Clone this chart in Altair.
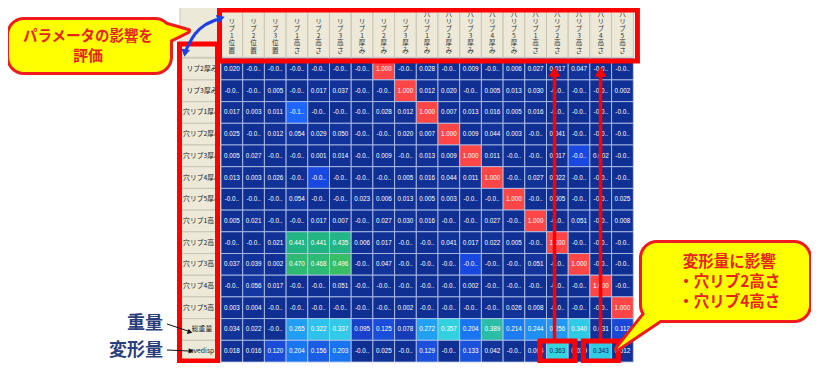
import altair as alt
import pandas as pd

# ---------------- data ----------------
COLS = ["リブ1位置", "リブ2位置", "リブ3位置", "リブ1高さ", "リブ2高さ", "リブ3高さ",
        "リブ1厚み", "リブ2厚み", "リブ3厚み",
        "穴リブ1厚み", "穴リブ2厚み", "穴リブ3厚み", "穴リブ4厚み", "穴リブ5厚み",
        "穴リブ1高さ", "穴リブ2高さ", "穴リブ3高さ", "穴リブ4高さ", "穴リブ5高さ"]
ROWS = ["リブ2厚み", "リブ3厚み", "穴リブ1厚み", "穴リブ2厚み", "穴リブ3厚み", "穴リブ4厚み",
        "穴リブ5厚み", "穴リブ1高さ", "穴リブ2高さ", "穴リブ3高さ", "穴リブ4高さ", "穴リブ5高さ",
        "総重量", "avedisp"]
# truncated negative entries ("-0.0..") are estimated as small negatives
VALUES = [
    [0.020, -0.01, -0.01, -0.01, -0.01, -0.01, -0.01, 1.000, -0.01, 0.028, -0.01, 0.009, -0.01, 0.006, 0.027, 0.017, 0.047, -0.01, -0.01],
    [-0.01, -0.01, 0.005, -0.01, 0.017, 0.037, -0.01, -0.01, 1.000, 0.012, 0.020, -0.01, 0.005, 0.013, 0.030, -0.01, -0.01, -0.01, 0.002],
    [0.017, 0.003, 0.011, -0.12, -0.01, -0.01, -0.01, 0.028, 0.012, 1.000, 0.007, 0.013, 0.016, 0.005, 0.016, -0.01, -0.01, -0.01, -0.01],
    [0.025, -0.01, 0.012, 0.054, 0.029, 0.050, -0.01, -0.01, 0.020, 0.007, 1.000, 0.009, 0.044, 0.003, -0.01, 0.041, -0.01, -0.01, -0.01],
    [0.005, 0.027, -0.01, -0.01, 0.001, 0.014, -0.01, 0.009, -0.01, 0.013, 0.009, 1.000, 0.011, -0.01, -0.01, 0.017, -0.05, 0.002, -0.01],
    [0.013, 0.003, 0.026, -0.01, -0.05, -0.01, -0.01, -0.01, 0.005, 0.016, 0.044, 0.011, 1.000, -0.01, 0.027, 0.022, -0.01, -0.01, -0.01],
    [-0.01, -0.01, -0.01, 0.054, -0.01, -0.01, 0.023, 0.006, 0.013, 0.005, 0.003, -0.01, -0.01, 1.000, -0.01, 0.005, -0.01, -0.01, 0.025],
    [0.005, 0.021, -0.01, -0.01, 0.017, 0.007, -0.01, 0.027, 0.030, 0.016, -0.01, -0.01, 0.027, -0.01, 1.000, -0.01, 0.051, -0.01, 0.008],
    [-0.01, -0.01, 0.021, 0.441, 0.441, 0.435, 0.006, 0.017, -0.01, -0.01, 0.041, 0.017, 0.022, 0.005, -0.01, 1.000, -0.01, -0.01, -0.01],
    [0.037, 0.039, 0.002, 0.470, 0.468, 0.496, -0.01, 0.047, -0.01, -0.01, -0.01, -0.05, -0.01, -0.01, 0.051, -0.01, 1.000, -0.01, -0.01],
    [-0.01, 0.056, 0.017, -0.01, -0.01, 0.051, -0.01, -0.01, -0.01, -0.01, -0.01, 0.002, -0.01, -0.01, -0.01, -0.01, -0.01, 1.000, -0.01],
    [0.003, 0.004, -0.01, -0.01, -0.01, -0.01, -0.01, -0.01, 0.002, -0.01, -0.01, -0.01, -0.01, 0.026, 0.008, -0.01, -0.01, -0.01, 1.000],
    [0.034, 0.022, -0.01, 0.265, 0.322, 0.337, 0.095, 0.125, 0.078, 0.272, 0.357, 0.204, 0.389, 0.214, 0.244, 0.256, 0.340, 0.031, 0.112],
    [0.018, 0.016, 0.120, 0.204, 0.156, 0.203, -0.01, 0.025, -0.01, 0.129, -0.01, 0.133, 0.042, -0.01, 0.064, 0.363, 0.030, 0.343, 0.012],
]
COLOR_STOPS = [-0.12, -0.05, -0.02, 0.05, 0.1, 0.2, 0.27, 0.33, 0.365, 0.39, 0.44, 0.5, 0.9, 1.0]
COLOR_RANGE = ["#1f66ff", "#1848e0", "#102e92", "#12349a", "#1a42d2", "#1a72f0", "#22a0f2",
               "#30c6ea", "#34d4dc", "#2cbca4", "#22b482", "#3ac064", "#ff4646", "#ff4646"]
CALLOUT1 = ["パラメータの影響を", "評価"]
CALLOUT2 = ["変形量に影響", "・穴リブ2高さ", "・穴リブ4高さ"]
SIDE_LABELS = ["重量", "変形量"]
HIGHLIGHT_COLS = ["穴リブ2高さ", "穴リブ4高さ"]

# ---------------- scales (grid units: one cell = 1) ----------------
XS = alt.Scale(domain=[-9.816, 27.189], nice=False, zero=False)
YS = alt.Scale(domain=[-2.313, 14.046], nice=False, zero=False, reverse=True)


def X(f="x"):
    return alt.X(f, type="quantitative", scale=XS, axis=None)


def Y(f="y"):
    return alt.Y(f, type="quantitative", scale=YS, axis=None)


X2 = alt.X2("x2")
Y2 = alt.Y2("y2")

nC, nR = len(COLS), len(ROWS)
JP = "Noto Sans CJK JP"
BEIGE = "#ece9d8"
RED = "#ff0000"

# cells
cells = []
for r, (rname, row) in enumerate(zip(ROWS, VALUES)):
    for c, v in enumerate(row):
        s = f"{v:.3f}"
        lab = s[:4] + ".." if v < 0 else s
        dark = rname == "avedisp" and COLS[c] in HIGHLIGHT_COLS
        cells.append(dict(c=c, c1=c + 1, r=r, r1=r + 1, cc=c + 0.5, rc=r + 0.5,
                          v=v, lab=lab, tc="#1a2060" if dark else "#ffffff"))
cells = pd.DataFrame(cells)

# header cells
hdr = [dict(x=c, x2=c + 1, y=-2.4, y2=-0.04) for c in range(nC)]
hdr.append(dict(x=-1.889, x2=0, y=-2.4, y2=-0.04))
hdr += [dict(x=-1.889, x2=0, y=r, y2=r + 1) for r in range(nR)]
hdr = pd.DataFrame(hdr)

L_hdr = alt.Chart(hdr).mark_rect(fill=BEIGE, stroke="#c9c5b3", strokeWidth=1).encode(
    x=X(), x2=X2, y=Y(), y2=Y2)

rl = pd.DataFrame([dict(x=-0.876, y=r + 0.5, t=n) for r, n in enumerate(ROWS)])
L_rl = alt.Chart(rl).mark_text(font=JP, fontSize=6.8, color="#222222", align="center",
                               baseline="middle").encode(x=X(), y=Y(), text="t:N")

L_cells = alt.Chart(cells).mark_rect(stroke="#b9c6ea", strokeWidth=0.8).encode(
    x=X("c"), x2=alt.X2("c1"), y=Y("r"), y2=alt.Y2("r1"),
    color=alt.Color("v:Q", scale=alt.Scale(domain=COLOR_STOPS, range=COLOR_RANGE,
                                           interpolate="rgb"), legend=None))
L_vals = alt.Chart(cells).mark_text(font="Liberation Sans", fontSize=6.3,
                                    baseline="middle").encode(
    x=X("cc"), y=Y("rc"), text="lab:N", color=alt.Color("tc:N", scale=None))

# vertical header text: one character per line, bottom-aligned in the header
LHPX = 7.3
LH = LHPX / 21.7
hc = pd.DataFrame([dict(x=c + 0.5, y=-0.147 - len(name) * LH, t="\n".join(name))
                   for c, name in enumerate(COLS)])
L_hc = alt.Chart(hc).mark_text(font=JP, fontSize=6.6, color="#333333", baseline="top",
                               lineBreak="\n", lineHeight=LHPX).encode(
    x=X(), y=Y(), text="t:N")

# red highlight boxes
hi = [COLS.index(n) for n in HIGHLIGHT_COLS]
boxes = pd.DataFrame([
    dict(x=-0.069, x2=19.19, y=-2.221, y2=0.129),
    dict(x=-1.912, x2=-0.161, y=-0.654, y2=13.95),
] + [dict(x=c - 0.3, x2=c + 1.31, y=13.032, y2=13.954) for c in hi])
L_boxes = alt.Chart(boxes).mark_rect(fill="#ffffff", fillOpacity=0, stroke=RED,
                                     strokeWidth=5).encode(x=X(), x2=X2, y=Y(), y2=Y2)

arr = pd.DataFrame([dict(x=c + (0.37 if c == hi[0] else 0.49), y=0.62, y2=13.03) for c in hi])
L_arr = alt.Chart(arr).mark_rule(color=RED, strokeWidth=3.5).encode(x=X(), y=Y(), y2=Y2)
L_arrh = alt.Chart(arr).mark_point(shape="triangle-up", filled=True, size=140, color=RED,
                                   opacity=1).encode(x=X(), y=Y())

# callouts
ptr = pd.DataFrame([
    dict(g=1, x=-2.811, y=-1.622, y2=-0.608),
    dict(g=1, x=-1.521, y=-1.253, y2=-1.253),
    dict(g=2, x=18.249, y=13.40, y2=13.40),
    dict(g=2, x=19.677, y=11.604, y2=12.44),
    dict(g=2, x=20.922, y=11.604, y2=11.604),
])
cbox = pd.DataFrame([dict(x=-9.77, x2=-2.35, y=-1.76, y2=0.636),
                     dict(x=19.40, x2=27.10, y=8.516, y2=12.06)])
CRED = "#ee1c1c"
YEL = "#ffff00"
L_p1 = alt.Chart(ptr).mark_area(orient="vertical", fill=YEL, stroke=CRED, strokeWidth=6,
                                strokeJoin="round").encode(x=X(), y=Y(), y2=Y2, detail="g:N")
L_b1 = alt.Chart(cbox).mark_rect(cornerRadius=15, fill=YEL, stroke=CRED, strokeWidth=6).encode(
    x=X(), x2=X2, y=Y(), y2=Y2)
L_p2 = alt.Chart(ptr).mark_area(orient="vertical", fill=YEL).encode(
    x=X(), y=Y(), y2=Y2, detail="g:N")
L_b2 = alt.Chart(cbox).mark_rect(cornerRadius=15, fill=YEL).encode(x=X(), x2=X2, y=Y(), y2=Y2)

ct = pd.DataFrame([
    dict(x=-6.13, y=-0.977, t=CALLOUT1[0], fs=14.5),
    dict(x=-6.13, y=-0.101, t=CALLOUT1[1], fs=15),
    dict(x=23.42, y=9.392, t=CALLOUT2[0], fs=15.5),
    dict(x=23.42, y=10.313, t=CALLOUT2[1], fs=15.5),
    dict(x=23.42, y=11.235, t=CALLOUT2[2], fs=15.5),
])
L_ct = alt.Chart(ct).mark_text(font=JP, fontWeight="bold", color="#e8231a",
                               baseline="middle").encode(
    x=X(), y=Y(), text="t:N", size=alt.Size("fs:Q", scale=None))

# blue curved arrow
blue = pd.DataFrame([
    dict(i=0, x=-0.184, y=-1.783), dict(i=1, x=-0.737, y=-1.530),
    dict(i=2, x=-1.198, y=-1.115), dict(i=3, x=-1.475, y=-0.654),
    dict(i=4, x=-1.613, y=-0.378)])
L_blue = alt.Chart(blue).mark_line(color="#1f3fe6", strokeWidth=3, interpolate="natural").encode(
    x=X(), y=Y(), order="i:Q")
bh = pd.DataFrame([dict(x=0.0, y=-1.853, a=340, sh="triangle-right"),
                   dict(x=-1.659, y=-0.240, a=10, sh="triangle-down")])
L_bh = alt.Chart(bh).mark_point(filled=True, size=80, color="#1f3fe6", opacity=1).encode(
    x=X(), y=Y(), shape=alt.Shape("sh:N", scale=None), angle=alt.Angle("a:Q", scale=None))

# side labels with small black arrows
blk = pd.DataFrame([dict(g=1, x=-2.488, y=12.249), dict(g=1, x=-1.521, y=12.571),
                    dict(g=2, x=-2.488, y=13.447), dict(g=2, x=-1.475, y=13.493)])
L_blk = alt.Chart(blk).mark_line(color="#111111", strokeWidth=1).encode(
    x=X(), y=Y(), detail="g:N")
kh = pd.DataFrame([dict(x=-1.429, y=12.618, a=18), dict(x=-1.382, y=13.493, a=3)])
L_kh = alt.Chart(kh).mark_point(shape="triangle-right", filled=True, size=30, color="#111111",
                                opacity=1).encode(x=X(), y=Y(), angle=alt.Angle("a:Q", scale=None))
sl = pd.DataFrame([dict(x=-2.673, y=12.249, t=SIDE_LABELS[0]),
                   dict(x=-2.673, y=13.493, t=SIDE_LABELS[1])])
L_sl = alt.Chart(sl).mark_text(font=JP, fontSize=18, fontWeight="bold", color="#2b3f7d",
                               align="right", baseline="middle").encode(x=X(), y=Y(), text="t:N")

chart = alt.layer(
    L_hdr, L_rl, L_cells, L_vals, L_hc, L_boxes, L_arr, L_arrh,
    L_p1, L_b1, L_p2, L_b2, L_ct, L_blue, L_bh, L_blk, L_kh, L_sl
).properties(
    width=803, height=355, padding=0, background="white",
    autosize=alt.AutoSizeParams(type="none"),
).configure_view(strokeWidth=0)

chart.save("out.html", embed_options={"renderer": "svg", "actions": False})
